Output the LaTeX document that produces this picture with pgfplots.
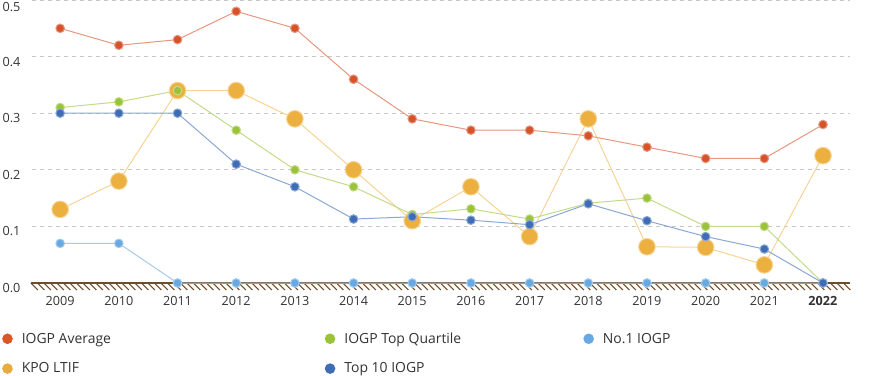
\documentclass[border=0pt]{standalone}
\usepackage{pgfplots}
\pgfplotsset{compat=1.18}
\usepackage{pgfplotstable}
\usepackage{fontspec}
\setmainfont{Open Sans}
\usetikzlibrary{decorations.pathreplacing}
\definecolor{cRed}{HTML}{D6522A}
\definecolor{cGreen}{HTML}{9BC33A}
\definecolor{cDBlue}{HTML}{3E6DB5}
\definecolor{cLBlue}{HTML}{67A9E0}
\definecolor{cOrange}{HTML}{ECB040}
\definecolor{cBrown}{HTML}{6E4C2C}
\definecolor{cText}{HTML}{333333}
\pgfplotstableread{
year avg topq top10 no1 kpo
2009 0.45 0.31 0.30 0.07 0.13
2010 0.42 0.32 0.30 0.07 0.18
2011 0.43 0.34 0.30 0 0.34
2012 0.48 0.27 0.21 0 0.34
2013 0.45 0.20 0.17 0 0.29
2014 0.36 0.17 0.113 0 0.20
2015 0.29 0.121 0.117 0 0.11
2016 0.27 0.131 0.111 0 0.17
2017 0.27 0.113 0.103 0 0.082
2018 0.26 0.141 0.14 0 0.29
2019 0.24 0.15 0.11 0 0.064
2020 0.22 0.10 0.082 0 0.063
2021 0.22 0.10 0.06 0 0.032
2022 0.28 0 0 0 0.225
}\datatable
\begin{document}
\begin{tikzpicture}
\useasboundingbox (0,0) rectangle (879bp,376bp);
\begin{axis}[
  at={(32bp,93bp)}, anchor=south west,
  scale only axis, width=818bp, height=283bp,
  xmin=2008.52, xmax=2022.46, ymin=0, ymax=0.5,
  clip=false,
  axis line style={draw=none},
  major tick length=0pt,
  xtick={2009,...,2022},
  xticklabels={2009,2010,2011,2012,2013,2014,2015,2016,2017,2018,2019,2020,2021,\textbf{2022}},
  ytick={0,0.1,0.2,0.3,0.4},
  extra y ticks={0.5},
  extra y tick style={yticklabel style={yshift=-2.5bp}},
  yticklabel style={/pgf/number format/fixed,/pgf/number format/fixed zerofill,/pgf/number format/precision=1},
  /pgf/number format/assume math mode=true,
  tick label style={font=\fontsize{12.7}{15}\selectfont, text=cText},
  yticklabel style={xshift=-8bp, yshift=-5bp},
  xticklabel style={yshift=-10bp},
  ymajorgrids,
  major grid style={dashed, draw=black!22, line width=0.8bp, dash pattern=on 4bp off 4bp},
  legend columns=3,
  legend cell align=left,
  legend image code/.code={\fill (5bp,0bp) circle (5.3bp);},
  legend style={draw=none, fill=none, inner sep=0pt, column sep=0pt, row sep=18bp,
    at={(axis description cs:-0.0367,-0.175)}, anchor=north west,
    font=\fontsize{14}{17}\selectfont, text=cText,
    nodes={inner sep=0pt}},
  every axis plot/.append style={line width=1bp},
]
\addlegendimage{fill=cRed!90!orange, draw=none}
\addlegendentry{\hspace{9bp}\makebox[303bp][l]{IOGP Average}}
\addlegendimage{fill=cGreen, draw=none}
\addlegendentry{\hspace{9bp}\makebox[239bp][l]{IOGP Top Quartile}}
\addlegendimage{fill=cLBlue, draw=none}
\addlegendentry{\hspace{9bp}No.1 IOGP}
\addlegendimage{fill=cOrange!90!brown, draw=none}
\addlegendentry{\hspace{9bp}\makebox[303bp][l]{KPO LTIF}}
\addlegendimage{fill=cDBlue, draw=none}
\addlegendentry{\hspace{9bp}\makebox[239bp][l]{Top 10 IOGP}}

% baseline with hatching
\draw[cBrown, line width=1.5bp, postaction={draw, line width=1bp, decorate, decoration={border, segment length=6.5bp, amplitude=10bp, angle=-45}}]
  (axis cs:2008.50,0) -- (axis cs:2022.46,0);

\addplot[forget plot, color=cOrange!55!white, mark=*, mark size=8.3bp, mark options={fill=cOrange, draw=none}] table[x=year,y=kpo]{\datatable};
\addplot[forget plot, color=cRed!60!white, mark=*, mark size=4.3bp, mark options={fill=cRed, draw=none}] table[x=year,y=avg]{\datatable};
\addplot[forget plot, color=cLBlue!60!white, mark=*, mark size=4.3bp, mark options={fill=cLBlue, draw=none}] table[x=year,y=no1]{\datatable};
\addplot[forget plot, color=cGreen!60!white, mark=*, mark size=4.3bp, mark options={fill=cGreen, draw=none}] table[x=year,y=topq]{\datatable};
\addplot[forget plot, color=cDBlue!60!white, mark=*, mark size=4.3bp, mark options={fill=cDBlue, draw=none}] table[x=year,y=top10]{\datatable};
\end{axis}
\end{tikzpicture}
\end{document}
